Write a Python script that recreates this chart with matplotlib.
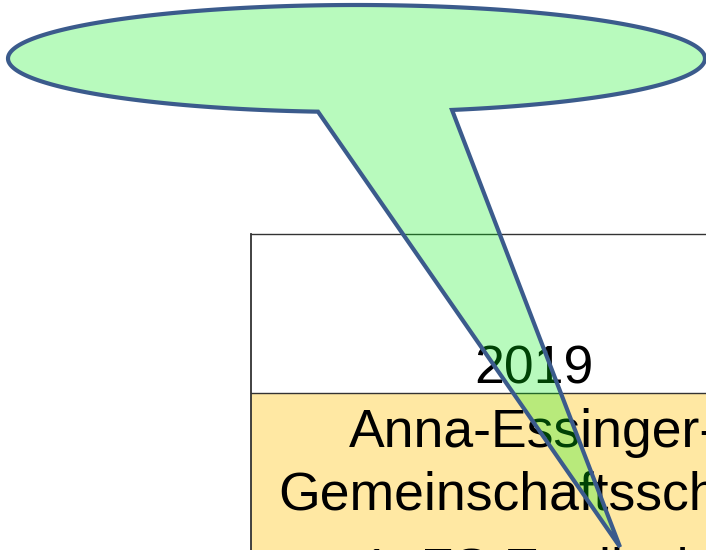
import matplotlib.pyplot as plt
import numpy as np
from matplotlib.patches import Polygon, Rectangle

# Inhalt
jahr = "2019"
zeilen = ["Anna-Essinger-", "Gemeinschaftsschule", "1. FS Englisch"]

# Geometrie (Pixel)
ellipse_mitte = (356.5, 58.5)
ellipse_halb = (348.5, 53.5)
spitze_fuss = (318, 452)
spitze = (620, 547)
tab_links, tab_oben, tab_trenn = 251, 234, 393
text_mitte = 534
basis_jahr = 384
basis_zeilen = [447, 510, 586]

fig = plt.figure(figsize=(7.06, 5.5), dpi=100)
ax = fig.add_axes([0, 0, 1, 1])
ax.set_xlim(0, 706)
ax.set_ylim(550, 0)
ax.axis("off")

# Tabelle
ax.add_patch(Rectangle((tab_links, tab_trenn), 706 - tab_links, 550 - tab_trenn,
                       facecolor="#ffe8a3", edgecolor="none", zorder=1))
ax.plot([tab_links, 706], [tab_oben, tab_oben], color="#333333", lw=1, zorder=2)
ax.plot([tab_links, 706], [tab_trenn, tab_trenn], color="#333333", lw=1, zorder=2)
ax.plot([tab_links, tab_links], [tab_oben, 550], color="#333333", lw=1.3, zorder=2)

ax.text(text_mitte, basis_jahr, jahr, family="Liberation Sans", fontsize=38.5,
        ha="center", va="baseline", zorder=3)
for z, b in zip(zeilen, basis_zeilen):
    ax.text(text_mitte, b, z, family="Liberation Sans", fontsize=38.5,
            ha="center", va="baseline", zorder=3)

# Sprechblase
cx, cy = ellipse_mitte
a, b = ellipse_halb
def winkel(x):
    dx = (x - cx) / a
    return np.arctan2(np.sqrt(1 - dx**2), dx)
t0 = winkel(spitze_fuss[1])
t1 = winkel(spitze_fuss[0])
t = np.linspace(t0, t1 - 2 * np.pi, 400)
xs = cx + a * np.cos(t)
ys = cy + b * np.sin(t)
pts = list(zip(xs, ys)) + [spitze]
blase = Polygon(pts, closed=True, facecolor=(0.0, 0.94, 0.08, 0.28),
                edgecolor="#3b5b8c", lw=3.0, joinstyle="miter", zorder=5)
ax.add_patch(blase)

fig.savefig("out.png", dpi=100)
